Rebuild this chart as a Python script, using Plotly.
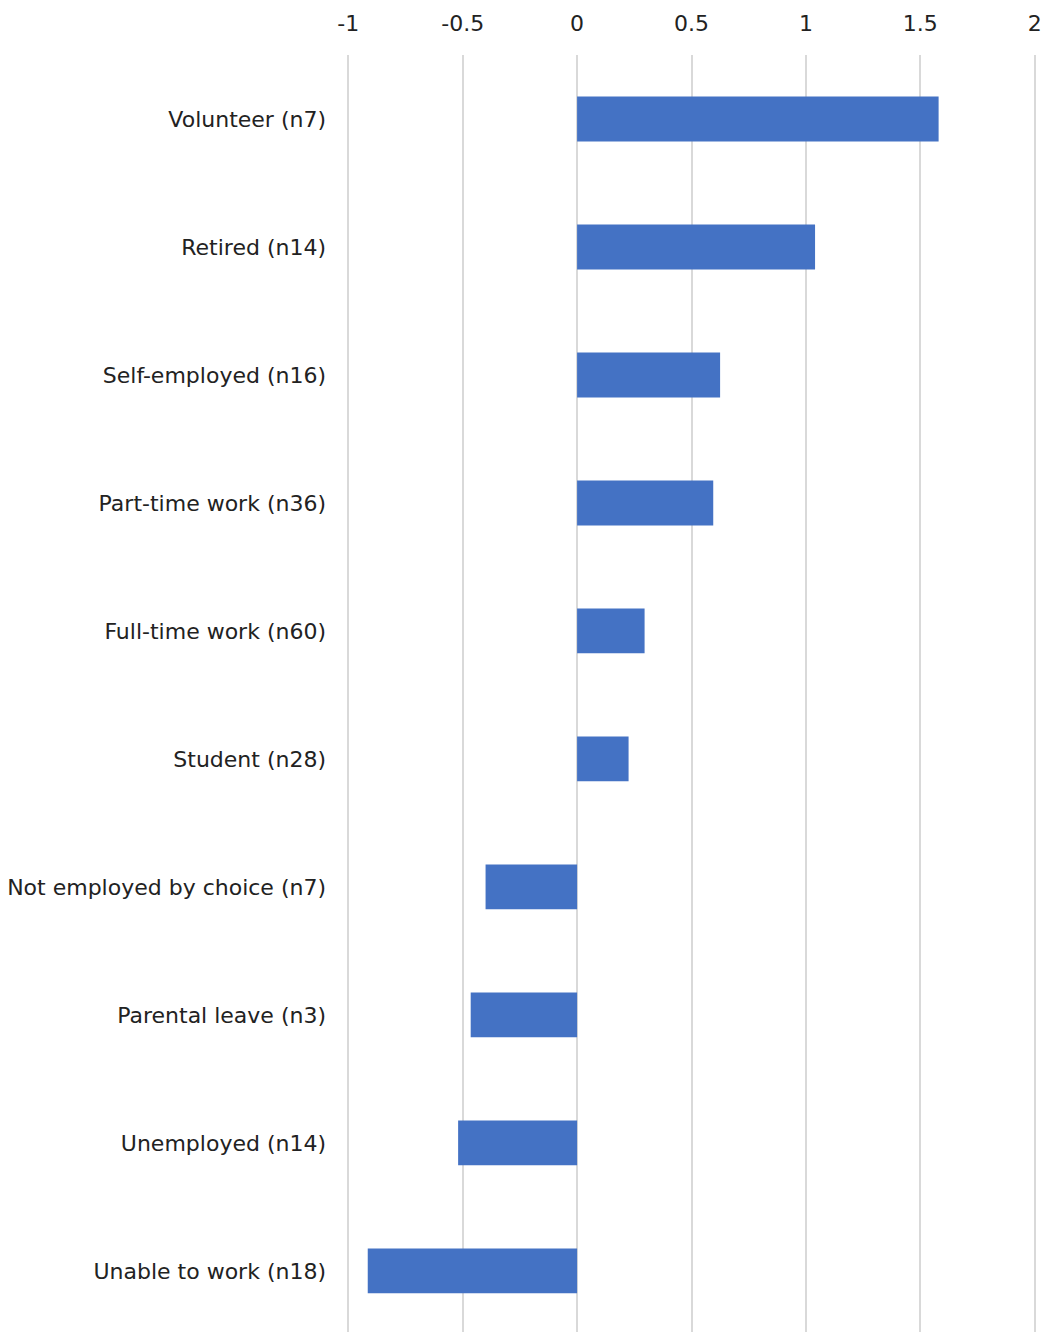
import plotly.graph_objects as go

# Categories listed top to bottom
categories = [
    "Volunteer (n7)",
    "Retired (n14)",
    "Self-employed (n16)",
    "Part-time work (n36)",
    "Full-time work (n60)",
    "Student (n28)",
    "Not employed by choice (n7)",
    "Parental leave (n3)",
    "Unemployed (n14)",
    "Unable to work (n18)",
]
scores = [1.58, 1.04, 0.625, 0.595, 0.295, 0.225, -0.40, -0.465, -0.52, -0.915]

x_ticks = [-1, -0.5, 0, 0.5, 1, 1.5, 2]
x_tick_labels = ["-1", "-0.5", "0", "0.5", "1", "1.5", "2"]

fig = go.Figure(
    go.Bar(
        x=scores,
        y=categories,
        orientation="h",
        width=0.35,
        marker=dict(color="#4472C4", line=dict(width=0)),
    )
)

fig.update_layout(
    width=1045,
    height=1332,
    margin=dict(l=346, r=8, t=55, b=0),
    plot_bgcolor="white",
    paper_bgcolor="white",
    font=dict(family="DejaVu Sans, sans-serif", size=22, color="#222222"),
    showlegend=False,
)

fig.update_xaxes(
    side="top",
    range=[-1.01, 2.01],
    tickvals=x_ticks,
    ticktext=x_tick_labels,
    showgrid=True,
    gridcolor="#d9d9d9",
    gridwidth=2,
    zeroline=True,
    zerolinecolor="#d9d9d9",
    zerolinewidth=2,
    showline=False,
    ticks="",
    ticklabelstandoff=19,
)

fig.update_yaxes(
    categoryorder="array",
    categoryarray=categories,
    range=[9.477, -0.5],
    showgrid=False,
    zeroline=False,
    showline=False,
    ticks="",
    ticklabelstandoff=19,
)

fig.write_html("out.html")
